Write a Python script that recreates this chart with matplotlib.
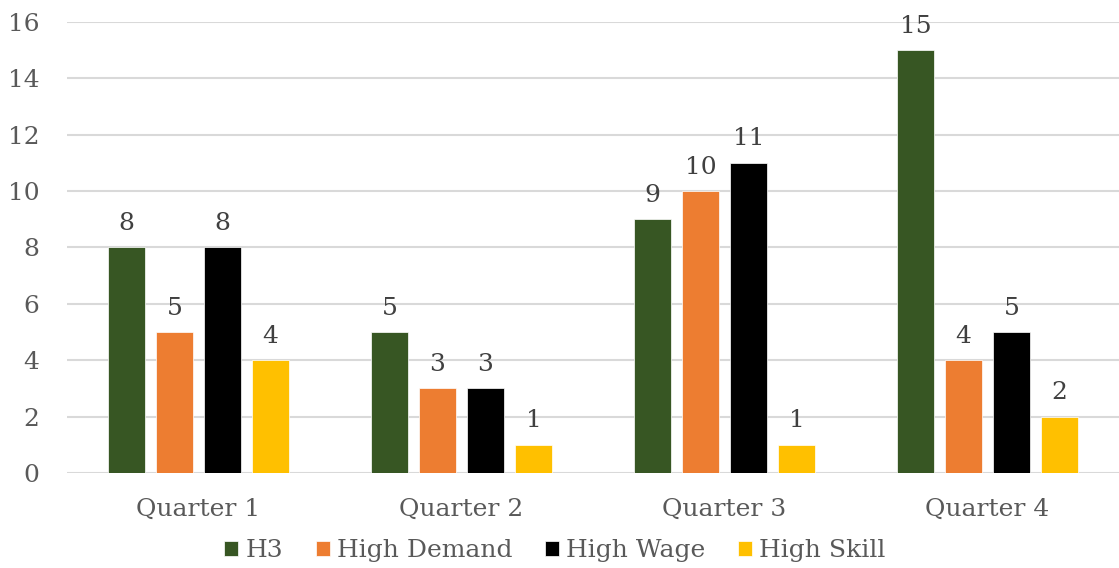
import matplotlib.pyplot as plt
import numpy as np

quarters = ["Quarter 1", "Quarter 2", "Quarter 3", "Quarter 4"]
series_names = ["H3", "High Demand", "High Wage", "High Skill"]
h3 = [8, 5, 9, 15]
high_demand = [5, 3, 10, 4]
high_wage = [8, 3, 11, 5]
high_skill = [4, 1, 1, 2]
colors = ["#375623", "#ED7D31", "#000000", "#FFC000"]

plt.rcParams['font.family'] = ['DejaVu Serif']

fig = plt.figure(figsize=(11.19, 5.68), dpi=100)
ax = fig.add_axes([0.0599, 0.1673, 0.9401, 0.794])

x = np.arange(len(quarters))
width = 0.141
offsets = [-0.2738, -0.0913, 0.0913, 0.2738]
for vals, name, col, off in zip([h3, high_demand, high_wage, high_skill], series_names, colors, offsets):
    bars = ax.bar(x + off, vals, width, color=col, label=name, edgecolor="white", linewidth=0.5, zorder=3)
    for b, v in zip(bars, vals):
        ax.annotate(str(v), (b.get_x() + b.get_width() / 2, v), xytext=(0, 9),
                    textcoords="offset points", ha="center", va="bottom",
                    fontsize=18, color="#404040")

ax.set_xlim(-0.5, 3.5)
ax.set_ylim(0, 16)
ax.set_yticks(range(0, 17, 2))
ax.set_xticks(x)
ax.set_xticklabels(quarters)
ax.yaxis.grid(True, color="#D9D9D9", linewidth=1.5, zorder=0)
ax.tick_params(axis="both", length=0, labelsize=18, colors="#595959")
ax.tick_params(axis="y", pad=20)
ax.tick_params(axis="x", pad=18)
for s in ax.spines.values():
    s.set_visible(False)

fig.legend(loc="center", bbox_to_anchor=(0.496, 0.03), ncol=4, frameon=False,
           fontsize=18, labelcolor="#595959", handlelength=0.55, handleheight=0.55,
           handletextpad=0.3, columnspacing=1.3)

fig.savefig("out.png", dpi=100)
